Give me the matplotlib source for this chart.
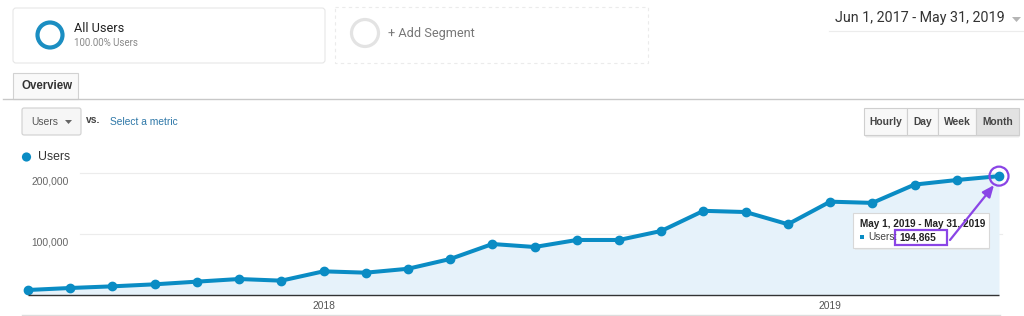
import matplotlib
matplotlib.use("Agg")
import matplotlib.pyplot as plt
from matplotlib.patches import Circle, Rectangle, FancyBboxPatch, Polygon

# ---------------- data ----------------
months = ['Jun 2017', 'Jul 2017', 'Aug 2017', 'Sep 2017', 'Oct 2017', 'Nov 2017',
          'Dec 2017', 'Jan 2018', 'Feb 2018', 'Mar 2018', 'Apr 2018', 'May 2018',
          'Jun 2018', 'Jul 2018', 'Aug 2018', 'Sep 2018', 'Oct 2018', 'Nov 2018',
          'Dec 2018', 'Jan 2019', 'Feb 2019', 'Mar 2019', 'Apr 2019', 'May 2019']
users = [8200, 11500, 14200, 17500, 21900, 26200, 23500, 38800, 36600, 43000,
         59000, 83600, 78700, 90200, 90200, 105000, 138000, 136000, 116000,
         153000, 151000, 181000, 188500, 194865]
year_ticks = ['Jan 2018', 'Jan 2019']
year_labels = ['2018', '2019']
y_gridlines = [100000, 200000]
y_labels = ['100,000', '200,000']
date_range = 'Jun 1, 2017 - May 31, 2019'
tooltip_title = 'May 1, 2019 - May 31, 2019'
tooltip_value = '194,865'
buttons = ['Hourly', 'Day', 'Week', 'Month']

# ---------------- style ----------------
W, H = 1024, 316
BLUE = '#0a8cc4'
FILL = '#e6f2fa'
PURPLE = '#8a45e6'
UI = 'Roboto'
ARIAL = 'Liberation Sans'

fig = plt.figure(figsize=(W / 100, H / 100), dpi=100)
fig.patch.set_facecolor('white')

# background UI layer (pixel coordinates)
bg = fig.add_axes([0, 0, 1, 1], zorder=0)
bg.set_xlim(0, W)
bg.set_ylim(H, 0)
bg.axis('off')

# segment box 1
bg.add_patch(FancyBboxPatch((13, 8), 312, 55, boxstyle='round,pad=0,rounding_size=3',
                            fc='white', ec='#e6e6e6', lw=0.8))
bg.add_patch(Circle((50, 35), 12.5, fc='none', ec='#1b8ec2', lw=3.0))
bg.text(74, 28, 'All Users', fontsize=9.2, family=UI, color='#222222', va='center')
bg.text(74, 42.5, '100.00% Users', fontsize=7, family=UI, color='#888888', va='center')

# segment box 2 (dashed)
bg.add_patch(Rectangle((335, 7), 313, 56, fc='white', ec='#ebebeb', lw=0.8, ls=(0, (3, 3))))
bg.add_patch(Circle((365, 33), 13.5, fc='none', ec='#e3e3e3', lw=2.3))
bg.text(388, 33, '+ Add Segment', fontsize=9.2, family=UI, color='#777777', va='center')

# date range
bg.text(1005, 18, date_range, fontsize=10.3, family=UI, color='#333333', va='center', ha='right')
bg.add_patch(Polygon([[1012, 17], [1021, 17], [1016.5, 22]], closed=True, fc='#b5b5b5', ec='none'))
bg.plot([829, 1024], [30.5, 30.5], color='#ececec', lw=0.8)

# overview tab and separator
bg.plot([3, W], [98.5, 98.5], color='#c8c8c8', lw=1.0)
bg.add_patch(Rectangle((13, 73), 65, 26, fc='#f9f9f9', ec='#d2d2d2', lw=0.8))
bg.add_patch(Rectangle((13.6, 97), 63.8, 3, fc='#f9f9f9', ec='none'))
bg.text(21, 86, 'Overview', fontsize=8.3, family=ARIAL, weight='bold', color='#333333', va='center')

# metric selector
bg.add_patch(FancyBboxPatch((22, 108), 59, 27, boxstyle='round,pad=0,rounding_size=2',
                            fc='#f6f6f6', ec='#d0d0d0', lw=0.8))
bg.text(31, 122, 'Users', fontsize=7.4, family=ARIAL, color='#555555', va='center')
bg.add_patch(Polygon([[65, 120], [72, 120], [68.5, 124]], closed=True, fc='#666666', ec='none'))
bg.text(86, 120, 'vs.', fontsize=7.4, family=ARIAL, weight='bold', color='#444444', va='center')
bg.text(110, 122, 'Select a metric', fontsize=7.4, family=ARIAL, color='#2f78a8', va='center')

# time granularity buttons
edges = [864, 907, 938, 976, 1019]
bg.add_patch(FancyBboxPatch((865, 109.5), 155, 28, boxstyle='round,pad=0,rounding_size=2',
                            fc='#e0e0e0', ec='none', alpha=0.7))
for i, name in enumerate(buttons):
    x0, x1 = edges[i], edges[i + 1]
    bg.add_patch(Rectangle((x0, 108), x1 - x0, 27,
                           fc='#e2e2e2' if name == 'Month' else '#f8f8f8',
                           ec='#cfcfcf', lw=0.8))
    bg.text((x0 + x1) / 2, 122, name, fontsize=7.4, family=ARIAL, weight='bold',
            color='#444444', va='center', ha='center')

# legend
bg.add_patch(Circle((26.5, 157), 4.6, fc=BLUE, ec='none'))
bg.text(38, 157.5, 'Users', fontsize=8.8, family=ARIAL, color='#333333', va='center')

# bottom border
bg.plot([22, 1000], [314.5, 314.5], color='#dddddd', lw=1.0)

# ---------------- chart ----------------
x0px, x1px = 28, 999
y0px, ytop_px = 295, 165
px_per_100k = 61.0
ax = fig.add_axes([x0px / W, 1 - y0px / H, (x1px - x0px) / W, (y0px - ytop_px) / H], zorder=2)
ax.patch.set_alpha(0)
idx = list(range(len(months)))
ax.set_xlim(0, len(months) - 1)
ax.set_ylim(0, (y0px - ytop_px) / px_per_100k * 100000)
for s in ax.spines.values():
    s.set_visible(False)

gx0 = (80 - x0px) / (x1px - x0px)
gx1 = (1002 - x0px) / (x1px - x0px)
for yv, lab in zip(y_gridlines, y_labels):
    ax.axhline(yv, xmin=gx0, xmax=gx1, color='#ececec', lw=0.8, zorder=0, clip_on=False)
    ax.annotate(lab, xy=(3 / (x1px - x0px), yv), xycoords=('axes fraction', 'data'),
                xytext=(0, -6.2), textcoords='offset points', fontsize=7.4, family=ARIAL,
                color='#666666', ha='left', va='center', annotation_clip=False)

ax.fill_between(idx, 0, users, color=FILL, lw=0, zorder=1)
ax.plot(idx, users, color=BLUE, lw=2.9, marker='o', ms=6.0, mec=BLUE, mfc=BLUE,
        zorder=3, clip_on=False, solid_joinstyle='round')
ax.hlines(0, idx[0], idx[-1], color='#333333', lw=1.0, zorder=4, clip_on=False)

ax.set_yticks([])
ax.set_xticks([months.index(m) for m in year_ticks])
ax.set_xticklabels(year_labels, fontsize=7.4, family=ARIAL, color='#555555')
ax.tick_params(axis='x', length=0, pad=4.5)

# ---------------- foreground annotations ----------------
fg = fig.add_axes([0, 0, 1, 1], zorder=5)
fg.set_xlim(0, W)
fg.set_ylim(H, 0)
fg.axis('off')
fg.patch.set_alpha(0)

# tooltip
fg.add_patch(Rectangle((855, 215), 135, 35, fc='#e4e4e4', ec='none', alpha=0.6))
fg.add_patch(Rectangle((853, 213), 136, 35, fc='white', ec='#d8d8d8', lw=0.8))
fg.text(860, 224, tooltip_title, fontsize=7.2, family=ARIAL, weight='bold',
        color='#222222', va='center')
fg.add_patch(Rectangle((860, 234.5), 4, 4, fc=BLUE, ec='none'))
fg.text(868, 237, 'Users:', fontsize=7.3, family=ARIAL, color='#444444', va='center')
fg.text(899, 237, tooltip_value, fontsize=7.3, family=ARIAL, weight='bold',
        color='#222222', va='center')
fg.add_patch(Rectangle((895, 230), 52, 15, fc='none', ec=PURPLE, lw=1.6))

# purple circle & arrow to last point
last_px = (x0px + (x1px - x0px) * idx[-1] / (len(months) - 1),
           y0px - users[-1] / 100000 * px_per_100k)
fg.add_patch(Circle(last_px, 9.5, fc='none', ec=PURPLE, lw=1.6))
fg.annotate('', xy=(last_px[0] - 5, last_px[1] + 9), xytext=(950, 240),
            arrowprops=dict(arrowstyle='-|>,head_length=0.7,head_width=0.3',
                            color=PURPLE, lw=1.6, shrinkA=0, shrinkB=0))

fig.savefig('out.png', dpi=100, facecolor=fig.get_facecolor())
